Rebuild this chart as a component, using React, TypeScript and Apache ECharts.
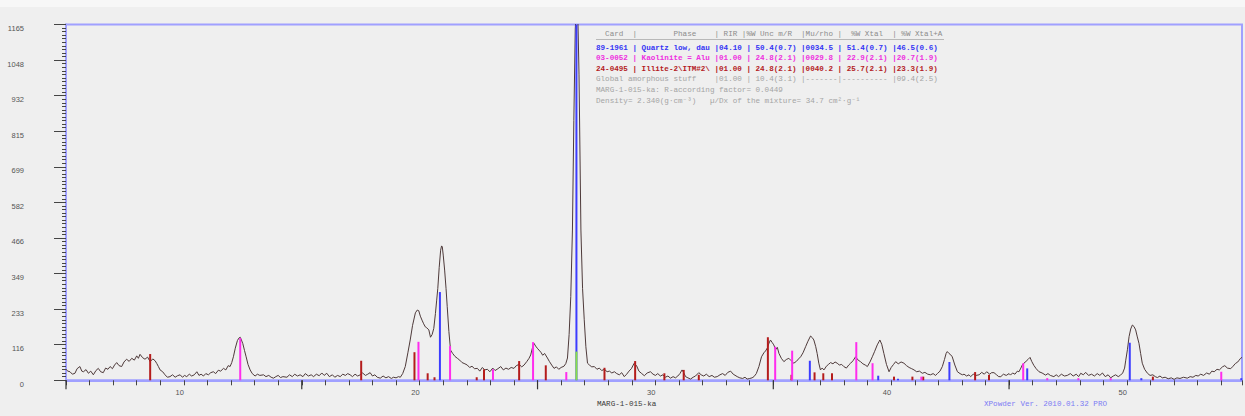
import React, { useEffect, useRef } from 'react';
import * as echarts from 'echarts';

// Diffractogram (2θ in degrees, counts)
const curve: [number, number][] = [
  [5.0,36],[5.08,30],[5.17,28],[5.27,20],[5.38,23],[5.47,38],[5.59,45],[5.67,30],[5.74,28],[5.85,35],[5.95,23],[6.05,30],[6.16,18],[6.27,32],[6.37,39],[6.47,28],[6.58,25],[6.68,40],[6.78,36],[6.87,45],[6.97,38],[7.06,50],[7.15,58],[7.25,48],[7.36,45],[7.46,60],[7.57,69],[7.68,62],[7.79,72],[7.9,66],[8.0,80],[8.07,72],[8.14,85],[8.25,74],[8.35,69],[8.46,76],[8.57,61],[8.68,70],[8.78,64],[8.85,55],[8.92,45],[8.99,34],[9.1,28],[9.2,18],[9.3,10],[9.41,12],
  [9.52,18],[9.63,10],[9.73,15],[9.84,18],[9.94,10],[10.03,16],[10.12,12],[10.23,20],[10.33,14],[10.44,18],[10.55,28],[10.64,16],[10.73,20],[10.83,14],[10.93,22],[11.04,18],[11.14,25],[11.25,28],[11.35,22],[11.46,33],[11.56,30],[11.68,39],[11.78,34],[11.88,48],[11.96,45],[12.03,58],[12.1,77],[12.18,105],[12.27,130],[12.33,138],[12.39,141],[12.44,132],[12.5,120],[12.57,98],[12.64,77],[12.72,52],[12.81,34],[12.9,22],[13.02,14],[13.12,20],[13.22,16],[13.38,18],[13.48,12],[13.6,16],[13.7,10],[13.8,7],[13.9,12],[14.0,16],[14.1,9],[14.2,12],[14.37,10],[14.48,18],[14.6,12],[14.7,20],[14.82,14],[14.93,18],[15.05,12],[15.15,22],[15.28,14],[15.4,18],[15.5,12],[15.62,20],[15.74,15],[15.85,24],[15.95,16],[16.06,23],[16.17,12],[16.3,18],[16.4,10],[16.52,16],[16.63,12],[16.74,20],[16.85,16],[16.95,22],[17.05,18],[17.15,12],[17.26,20],[17.37,14],[17.48,18],[17.58,24],[17.7,16],[17.8,20],[17.9,25],[18.0,14],[18.1,18],[18.2,10],[18.33,7],[18.45,14],[18.57,8],[18.68,12],[18.8,6],[18.89,10],[19.0,8],[19.1,12],[19.18,10],
  [19.28,22],[19.39,45],[19.5,90],[19.6,132],[19.7,180],[19.82,221],[19.9,230],[19.96,228],[20.03,210],[20.1,197],[20.17,185],[20.24,175],[20.3,172],[20.39,165],[20.46,141],[20.53,150],[20.6,170],[20.67,219],[20.72,260],[20.77,301],[20.83,370],[20.89,426],[20.93,440],[20.96,437],[21.0,410],[21.06,361],[21.12,300],[21.17,241],[21.24,160],[21.31,99],[21.4,88],[21.5,78],[21.6,72],[21.7,66],[21.8,58],[21.92,54],[22.02,50],[22.12,42],[22.22,46],[22.33,38],[22.45,39],[22.55,30],[22.66,42],[22.76,34],[22.87,36],[22.98,28],[23.1,40],[23.2,32],[23.32,38],[23.44,45],[23.55,34],[23.66,40],[23.77,36],[23.88,42],[24.0,39],[24.1,48],[24.22,52],[24.33,44],[24.43,50],[24.55,62],[24.64,72],[24.71,83],[24.78,105],[24.85,121],[24.92,112],[24.99,105],[25.06,99],[25.14,92],[25.22,82],[25.3,88],[25.42,73],[25.5,62],[25.6,50],[25.7,39],[25.8,44],[25.9,36],[26.0,42],[26.12,46],[26.2,55],[26.27,73],[26.34,150],[26.41,274],[26.48,492],[26.54,850],[26.6,1150],[26.65,1230],[26.7,1230],[26.76,1000],[26.84,492],[26.91,300],[26.98,200],[27.05,110],[27.12,56],[27.2,50],[27.3,44],[27.41,45],[27.52,36],[27.62,40],[27.72,32],[27.84,36],[27.95,28],[28.05,30],[28.15,24],[28.26,28],[28.36,22],[28.47,18],[28.57,25],[28.68,12],[28.78,20],[28.88,30],[28.98,38],[29.1,56],[29.2,48],[29.3,30],[29.42,22],[29.53,15],[29.65,24],[29.79,28],[29.9,20],[30.0,16],[30.1,22],[30.21,14],[30.32,18],[30.42,10],[30.53,14],[30.64,7],[30.75,12],[30.85,8],[30.95,14],[31.04,22],[31.13,34],[31.2,25],[31.28,12],[31.38,8],[31.49,4],[31.6,10],[31.7,14],[31.84,25],[31.94,18],[32.05,14],[32.16,20],[32.28,12],[32.4,16],[32.5,10],[32.62,12],[32.74,18],[32.85,22],[32.96,16],[33.07,26],[33.19,30],[33.3,20],[33.47,12],[33.58,8],[33.7,6],[33.8,10],[33.89,4],[34.0,6],[34.1,8],[34.18,12],[34.28,22],[34.39,45],[34.5,77],[34.6,90],[34.67,96],[34.75,106],[34.82,122],[34.88,132],[34.95,124],[35.02,116],[35.1,100],[35.17,108],[35.24,88],[35.34,72],[35.45,61],[35.55,68],[35.66,72],[35.76,64],[35.87,56],[35.98,62],[36.07,70],[36.16,77],[36.26,90],[36.37,110],[36.47,128],[36.58,145],[36.65,140],[36.72,132],[36.8,110],[36.86,88],[36.93,56],[37.0,34],[37.07,40],[37.15,34],[37.25,46],[37.34,52],[37.43,58],[37.53,54],[37.62,60],[37.71,56],[37.8,50],[37.9,52],[37.99,45],[38.1,40],[38.2,50],[38.28,56],[38.38,64],[38.49,77],[38.6,66],[38.7,61],[38.8,54],[38.9,50],[38.99,45],[39.1,60],[39.2,77],[39.3,95],[39.41,116],[39.48,126],[39.52,132],[39.6,118],[39.69,88],[39.8,52],[39.91,28],[40.0,42],[40.1,52],[40.19,61],[40.3,54],[40.42,60],[40.54,56],[40.65,48],[40.76,42],[40.87,38],[40.97,34],[41.08,28],[41.2,30],[41.32,23],[41.43,26],[41.55,20],[41.67,18],[41.78,22],[41.88,16],[41.96,22],[42.07,30],[42.17,45],[42.26,68],[42.33,88],[42.38,94],[42.45,88],[42.52,84],[42.59,77],[42.7,50],[42.81,28],[42.92,22],[43.02,18],[43.09,20],[43.2,14],[43.3,18],[43.37,12],[43.48,20],[43.6,16],[43.73,18],[43.84,26],[43.95,20],[44.05,28],[44.18,20],[44.26,25],[44.36,25],[44.47,18],[44.56,12],[44.65,12],[44.76,20],[44.88,16],[45.0,22],[45.06,17],[45.15,24],[45.25,20],[45.35,30],[45.42,28],[45.5,40],[45.56,50],[45.63,56],[45.72,62],[45.8,68],[45.89,75],[45.96,62],[46.05,49],[46.15,38],[46.27,28],[46.4,24],[46.55,17],[46.65,22],[46.75,16],[46.9,12],[47.0,18],[47.1,12],[47.22,20],[47.35,14],[47.47,16],[47.6,22],[47.72,14],[47.85,20],[47.95,12],[48.04,23],[48.15,18],[48.25,26],[48.37,16],[48.5,20],[48.62,14],[48.74,22],[48.85,16],[48.96,24],[49.08,12],[49.2,18],[49.31,8],[49.42,14],[49.52,18],[49.63,12],[49.73,17],[49.82,24],[49.9,40],[49.95,66],[50.02,100],[50.09,143],[50.16,168],[50.23,181],[50.3,176],[50.37,165],[50.44,142],[50.51,121],[50.58,88],[50.65,56],[50.75,36],[50.87,23],[50.98,16],[51.1,18],[51.2,12],[51.29,9],[51.4,14],[51.5,8],[51.62,10],[51.75,5],[51.88,8],[52.0,3],[52.12,8],[52.25,6],[52.4,10],[52.56,7],[52.68,12],[52.8,10],[52.92,16],[53.02,14],[53.13,20],[53.25,16],[53.38,24],[53.5,20],[53.6,30],[53.7,28],[53.82,36],[53.92,34],[54.05,44],[54.15,48],[54.26,40],[54.4,38],[54.5,46],[54.6,55],[54.7,60],[54.76,66],[54.82,72],[54.88,75],
];

// Reference pattern sticks [2θ, height]
const quartzSticks: [number, number][] = [
  [20.86,289],[26.65,1230],[36.55,64],[39.45,15],[40.29,5],[42.47,60],[45.77,39],[50.12,123],[50.61,7],[54.85,7],
];
const kaoliniteSticks: [number, number][] = [
  [12.39,138],[19.95,126],[21.29,112],[23.11,36],[24.81,125],[26.22,27],[35.08,110],[35.8,97],[38.52,125],[39.21,56],[41.28,12],[45.6,56],[46.62,7],[47.94,7],[49.31,7],[54.0,28],
];
const illiteSticks: [number, number][] = [
  [8.57,86],[17.52,64],[19.78,92],[20.34,23],[20.63,10],[22.42,10],[22.73,36],[24.22,63],[25.35,49],[27.84,41],[29.14,63],[30.38,23],[31.2,34],[31.84,18],[34.77,141],[35.77,18],[36.75,26],[37.12,23],[37.49,23],[40.12,12],[40.9,12],[41.36,12],[43.56,27],[44.15,18],[51.1,12],
];
const amorphousSticks: [number, number][] = [[26.65,94]];

const majorXTicks = [5, 15, 25, 35, 45];
const xTickLabels = ['10', '20', '30', '40', '50'];
const yTickLabels = ['0', '116', '233', '349', '466', '582', '699', '815', '932', '1048', '1165'];

const legendHeader = '  Card  |        Phase    | RIR |%W Unc m/R  |Mu/rho |  %W Xtal  | %W Xtal+A';
const legendRows = [
  '89-1961 | Quartz low, dau |04.10 | 50.4(0.7) |0034.5 | 51.4(0.7) |46.5(0.6)',
  '03-0052 | Kaolinite = Alu |01.00 | 24.8(2.1) |0029.8 | 22.9(2.1) |20.7(1.9)',
  '24-0495 | Illite-2\\ITM#2\\ |01.00 | 24.8(2.1) |0040.2 | 25.7(2.1) |23.3(1.9)',
  'Global amorphous stuff    |01.00 | 10.4(3.1) |-------|---------- |09.4(2.5)',
  'MARG-1-015-ka: R-according factor= 0.0449',
  'Density= 2.340(g·cm⁻³)   µ/Dx of the mixture= 34.7 cm²·g⁻¹',
];
const legendColors = ['#3434f4', '#ee2ee0', '#b41c24', '#a4a4a4', '#a4a4a4', '#a4a4a4'];
const legendBold = [true, true, true, false, false, false];
const sampleName = 'MARG-1-015-ka';
const versionText = 'XPowder Ver. 2010.01.32 PRO';

const X_MIN = 5;
const X_MAX = 54.88;
const Y_MAX = 1165;
const Y_STEP = 116.5;

function stickSeries(name: string, data: [number, number][], color: string, z: number) {
  return {
    type: 'custom',
    name,
    z,
    data,
    encode: { x: 0, y: 1 },
    renderItem: (params: any, api: any) => {
      const x = api.value(0);
      const h = api.value(1);
      const b = api.coord([x, 0]);
      const t = api.coord([x, h]);
      const top = Math.max(t[1], params.coordSys.y);
      return {
        type: 'rect',
        shape: { x: b[0] - 1, y: top, width: 2, height: b[1] - top },
        style: { fill: color },
      };
    },
  };
}

export default function App() {
  const ref = useRef<HTMLDivElement>(null);
  useEffect(() => {
    if (!ref.current) return;
    const chart = echarts.init(ref.current, null, { renderer: 'svg' });
    const mono = 'Liberation Mono, DejaVu Sans Mono, monospace';
    const lineYs = [47.7, 58.2, 68.8, 79.4, 90.1, 100.8];
    const graphics: any[] = [
      { type: 'rect', left: 0, top: 0, shape: { x: 0, y: 0, width: 1245, height: 7 }, style: { fill: '#f7f7f7' }, z: -1 },
      {
        type: 'text', x: 596, y: 33.5,
        style: { text: legendHeader, font: `7.6px ${mono}`, fill: '#8c8c8c', verticalAlign: 'middle' },
      },
      { type: 'line', shape: { x1: 596, y1: 39.5, x2: 944, y2: 39.5 }, style: { stroke: '#b8b8b8', lineWidth: 1 } },
      ...legendRows.map((t, i) => ({
        type: 'text', x: 596, y: lineYs[i],
        style: {
          text: t,
          font: `${legendBold[i] ? 'bold ' : ''}7.6px ${mono}`,
          fill: legendColors[i],
          verticalAlign: 'middle',
        },
      })),
      {
        type: 'text', x: 597, y: 403.5,
        style: { text: sampleName, font: `7.6px ${mono}`, fill: '#3a3a3a', verticalAlign: 'middle' },
      },
      {
        type: 'text', x: 984, y: 403.5,
        style: { text: versionText, font: `7.6px ${mono}`, fill: '#7c7cf4', verticalAlign: 'middle' },
      },
    ];

    chart.setOption({
      animation: false,
      backgroundColor: '#efefef',
      grid: {
        left: 66, top: 24.5, right: 1, bottom: 35.7,
        show: true, borderColor: '#a0a0ff', borderWidth: 2, backgroundColor: 'transparent',
      },
      xAxis: {
        type: 'value', min: X_MIN, max: X_MAX, interval: 1,
        axisLine: { show: true, lineStyle: { color: '#a0a0ff', width: 2 } },
        axisTick: { show: true, length: 5, lineStyle: { color: '#444', width: 1 } },
        splitLine: { show: false },
        axisLabel: {
          margin: 8, align: 'right', color: '#555', fontSize: 7.5,
          fontFamily: 'Liberation Sans, Arial, sans-serif',
          formatter: (v: number) => {
            const i = xTickLabels.indexOf(String(Math.round(v)));
            return Math.abs(v - Math.round(v)) < 1e-6 && i >= 0 ? xTickLabels[i] : '';
          },
        },
      },
      yAxis: {
        type: 'value', min: 0, max: Y_MAX, interval: Y_STEP,
        axisLine: { show: true, lineStyle: { color: '#a0a0ff', width: 2 } },
        axisTick: { show: true, length: 12, lineStyle: { color: '#444', width: 1 } },
        minorTick: { show: true, splitNumber: 10, length: 4, lineStyle: { color: '#444', width: 1 } },
        splitLine: { show: false },
        axisLabel: {
          margin: 42, align: 'right', verticalAlign: 'top', color: '#555', fontSize: 7.5,
          fontFamily: 'Liberation Sans, Arial, sans-serif',
          formatter: (v: number) => yTickLabels[Math.round(v / Y_STEP)] ?? '',
        },
      },
      graphic: graphics,
      series: [
        {
          type: 'custom',
          name: 'majorTicks',
          z: 1,
          clip: false,
          data: majorXTicks.map((v) => [v, 0]),
          encode: { x: 0, y: 1 },
          renderItem: (_p: any, api: any) => {
            const p = api.coord([api.value(0), 0]);
            return {
              type: 'line',
              shape: { x1: p[0], y1: p[1], x2: p[0], y2: p[1] + 9 },
              style: { stroke: '#333', lineWidth: 1.2 },
            };
          },
        },
        {
          type: 'line',
          name: 'MARG-1-015-ka',
          data: curve,
          showSymbol: false,
          symbol: 'none',
          z: 2,
          lineStyle: { color: '#4e3a3a', width: 1 },
        },
        stickSeries('Illite', illiteSticks, '#b41c1c', 3),
        stickSeries('Kaolinite', kaoliniteSticks, '#ff2cee', 4),
        stickSeries('Quartz', quartzSticks, '#3c3cff', 5),
        stickSeries('Amorphous', amorphousSticks, '#88e048', 6),
      ],
    });
    return () => chart.dispose();
  }, []);
  return (
    <div
      ref={ref}
      style={{ position: 'fixed', left: 0, top: 0, width: 1245, height: 416 }}
    />
  );
}
